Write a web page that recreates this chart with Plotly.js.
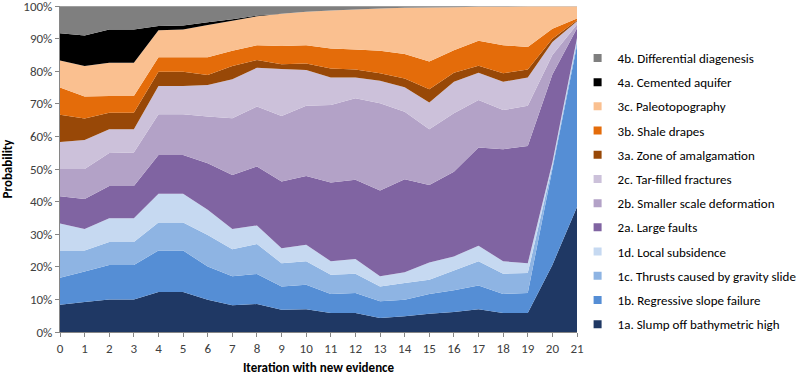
<!DOCTYPE html>
<html>
<head>
<meta charset="utf-8">
<script src="https://cdn.plot.ly/plotly-3.0.1.min.js"></script>
<style>html,body{margin:0;padding:0;background:#fff;}#chart{width:800px;height:375px;}</style>
</head>
<body>
<div id="chart"></div>
<script>
const iterations = [0,1,2,3,4,5,6,7,8,9,10,11,12,13,14,15,16,17,18,19,20,21];

const names = [
  "1a. Slump off bathymetric high",
  "1b. Regressive slope failure",
  "1c. Thrusts caused by gravity slide",
  "1d. Local subsidence",
  "2a. Large faults",
  "2b. Smaller scale deformation",
  "2c. Tar-filled fractures",
  "3a. Zone of amalgamation",
  "3b. Shale drapes",
  "3c. Paleotopography",
  "4a. Cemented aquifer",
  "4b. Differential diagenesis"
];

const s1a = [8.33, 9.2, 10.0, 10.0, 12.3, 12.3, 9.9, 8.2, 8.6, 6.8, 7.0, 5.8, 5.8, 4.3, 4.8, 5.6, 6.1, 7.0, 5.8, 5.8, 20.6, 38.4];
const s1b = [8.33, 9.4, 10.6, 10.6, 12.7, 12.7, 10.2, 8.9, 9.2, 7.2, 7.5, 5.9, 6.2, 5.1, 5.1, 6.1, 6.7, 7.3, 5.9, 6.2, 29.4, 49.6];
const s1c = [8.33, 6.4, 7.0, 7.0, 8.6, 8.6, 9.7, 8.3, 9.2, 7.1, 7.2, 5.9, 5.9, 4.6, 5.1, 4.3, 6.1, 7.4, 6.2, 6.1, 1.0, 1.2];
const s1d = [8.33, 6.6, 7.3, 7.3, 8.8, 8.8, 7.7, 6.2, 5.7, 4.6, 5.1, 4.1, 4.5, 3.1, 3.3, 5.3, 4.3, 4.8, 3.8, 3.0, 1.0, 1.0];
const s2a = [8.33, 9.2, 9.9, 9.9, 11.9, 11.9, 14.3, 16.6, 18.1, 20.5, 21.1, 24.2, 24.3, 26.3, 28.6, 23.8, 26.0, 30.1, 34.4, 36.0, 27.0, 3.0];
const s2b = [8.33, 9.2, 10.1, 10.3, 12.5, 12.5, 14.3, 17.4, 18.4, 20.1, 21.5, 23.8, 25.0, 26.8, 20.7, 17.1, 17.9, 14.6, 12.0, 12.3, 6.0, 1.2];
const s2c = [8.33, 8.9, 7.3, 7.1, 8.7, 8.7, 9.7, 12.0, 11.9, 14.4, 11.0, 8.4, 6.4, 6.9, 7.5, 8.2, 9.7, 8.4, 8.7, 8.7, 4.0, 1.0];
const s3a = [8.33, 6.6, 5.1, 5.1, 4.4, 4.4, 3.1, 4.0, 2.4, 1.5, 2.0, 2.8, 2.5, 2.3, 2.7, 4.1, 2.8, 2.1, 2.6, 2.5, 1.0, 0.3];
const s3b = [8.33, 6.8, 5.1, 5.1, 4.4, 4.4, 5.4, 4.7, 4.5, 5.6, 5.6, 6.1, 6.1, 6.9, 7.5, 8.5, 6.9, 7.7, 8.6, 6.9, 3.1, 0.5];
const s3c = [8.33, 9.3, 10.2, 10.2, 8.3, 8.5, 9.9, 9.2, 8.9, 9.9, 10.3, 11.7, 12.3, 13.0, 14.2, 16.6, 13.2, 10.4, 11.8, 12.4, 6.8, 3.7];
const s4a = [8.33, 9.4, 10.2, 10.2, 1.3, 1.3, 0.9, 0.5, 0.2, 0, 0, 0, 0, 0, 0, 0, 0, 0, 0, 0, 0, 0];
const s4b = [8.33, 9.0, 7.2, 7.2, 6.1, 5.9, 4.9, 4.0, 2.9, 2.3, 1.7, 1.3, 1.0, 0.7, 0.5, 0.4, 0.3, 0.2, 0.2, 0.1, 0.1, 0.1];

const series = [s1a, s1b, s1c, s1d, s2a, s2b, s2c, s3a, s3b, s3c, s4a, s4b];
const colors = ["#1f3864", "#558ed5", "#8eb4e3", "#c6d9f1", "#8064a2", "#b3a2c7",
                "#ccc1da", "#984807", "#e46c0a", "#fac090", "#000000", "#7f7f7f"];

const traces = [];
series.forEach((vals, i) => {
  traces.push({
    type: "scatter", mode: "none", x: iterations, y: vals,
    stackgroup: "one", groupnorm: i === 0 ? "percent" : undefined,
    fillcolor: colors[i], line: {width: 0, color: colors[i]},
    name: names[i], showlegend: false, hoverinfo: "skip"
  });
});
// legend entries, top to bottom: 4b ... 1a
for (let i = series.length - 1; i >= 0; i--) {
  traces.push({
    type: "scatter", mode: "markers", x: [null], y: [null],
    marker: {symbol: "square", size: 8, color: colors[i]},
    name: names[i], legendgroup: "g" + i, showlegend: true, hoverinfo: "skip"
  });
}

const fontFam = 'Carlito, Calibri, "Liberation Sans", "DejaVu Sans", sans-serif';
const layout = {
  width: 800, height: 375,
  margin: {l: 60, r: 223, t: 6, b: 43},
  paper_bgcolor: "#ffffff", plot_bgcolor: "#ffffff",
  font: {family: fontFam, size: 13, color: "#000"},
  showlegend: true,
  xaxis: {
    range: [0, 21], tickmode: "linear", tick0: 0, dtick: 1,
    showgrid: false, zeroline: false,
    showline: true, linecolor: "#868686", linewidth: 1,
    ticks: "outside", ticklen: 4, tickcolor: "#868686",
    tickfont: {size: 13, color: "#404040"},
    title: {text: "<b>Iteration with new evidence</b>", font: {size: 13, color: "#000"}, standoff: 9}
  },
  yaxis: {
    range: [0, 100.05], tickmode: "array",
    tickvals: [0,10,20,30,40,50,60,70,80,90,100],
    ticktext: ["0%","10%","20%","30%","40%","50%","60%","70%","80%","90%","100%"],
    ticklabeloverflow: "allow",
    showgrid: false, zeroline: false,
    showline: true, linecolor: "#868686", linewidth: 1,
    ticks: "outside", ticklen: 4, tickcolor: "#868686",
    tickfont: {size: 13, color: "#404040"},
    title: {text: "<b>Probability</b>", font: {size: 13, color: "#000"}, standoff: 10}
  },
  legend: {
    xref: "container", yref: "container",
    x: 0.722, xanchor: "left", y: 0.8853, yanchor: "top",
    maxheight: 340,
    traceorder: "grouped", tracegroupgap: 4.3,
    font: {size: 13, color: "#000"},
    bgcolor: "rgba(0,0,0,0)", itemclick: false
  }
};

Plotly.newPlot("chart", traces, layout, {displayModeBar: false, staticPlot: true});
</script>
</body>
</html>
